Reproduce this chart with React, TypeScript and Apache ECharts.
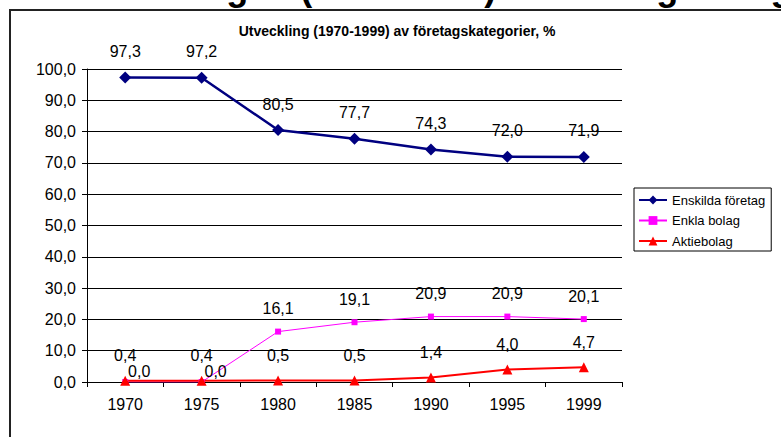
import React, { useEffect, useRef } from "react";
import * as echarts from "echarts";

const years = ["1970", "1975", "1980", "1985", "1990", "1995", "1999"];
const enskilda = [97.3, 97.2, 80.5, 77.7, 74.3, 72.0, 71.9];
const enkla = [0.0, 0.0, 16.1, 19.1, 20.9, 20.9, 20.1];
const aktie = [0.4, 0.4, 0.5, 0.5, 1.4, 4.0, 4.7];
const seriesNames = ["Enskilda företag", "Enkla bolag", "Aktiebolag"];
const yMin = 0;
const yMax = 100;
const yStep = 10;

const FONT = "'Liberation Sans', Arial, sans-serif";
const fmt = (v: number) => Number(v).toFixed(1).replace(".", ",");

export default function App() {
  const ref = useRef<HTMLDivElement>(null);
  useEffect(() => {
    if (!ref.current) return;
    const chart = echarts.init(ref.current, undefined, { renderer: "svg" });
    const label = {
      show: true,
      position: "top",
      distance: 12,
      fontSize: 16,
      color: "#000",
      fontFamily: FONT,
      formatter: (p: any) => fmt(p.value),
    };
    chart.setOption({
      animation: false,
      backgroundColor: "#fff",
      textStyle: { fontFamily: FONT },
      graphic: [
        {
          type: "text",
          x: -130,
          y: 5,
          silent: true,
          style: {
            text: "Diagram 1: Utvecklingen (1970-1999) av företagskategorier",
            font: "bold 36px " + FONT,
            fill: "#000",
            textVerticalAlign: "bottom",
            verticalAlign: "bottom",
          },
        },
        {
          type: "rect",
          shape: { x: 10, y: 10, width: 800, height: 460 },
          silent: true,
          style: { fill: "#fff", stroke: "#222", lineWidth: 2 },
        },
        {
          type: "text",
          x: 397,
          y: 31,
          silent: true,
          style: {
            text: "Utveckling (1970-1999) av företagskategorier, %",
            font: "bold 14px " + FONT,
            fill: "#000",
            align: "center",
            verticalAlign: "middle",
            textAlign: "center",
            textVerticalAlign: "middle",
          },
        },
      ],
      grid: {
        left: 87,
        right: 159,
        top: 69,
        bottom: 55,
        show: true,
        borderColor: "#808080",
        borderWidth: 1,
        backgroundColor: "transparent",
      },
      legend: {
        data: seriesNames,
        orient: "vertical",
        left: 634,
        top: 188,
        itemWidth: 28,
        itemHeight: 11,
        itemGap: 6.5,
        padding: [5, 6, 3, 4],
        borderColor: "#000",
        borderWidth: 1,
        backgroundColor: "#fff",
        textStyle: { fontSize: 13, color: "#000", fontFamily: FONT, lineHeight: 14 },
      },
      xAxis: {
        type: "category",
        data: years,
        boundaryGap: true,
        axisLine: { lineStyle: { color: "#000", width: 1 } },
        axisTick: { show: true, length: 5, alignWithLabel: false, lineStyle: { color: "#000" } },
        axisLabel: { color: "#000", fontSize: 16, margin: 14, fontFamily: FONT },
        splitLine: { show: false },
      },
      yAxis: {
        type: "value",
        min: yMin,
        max: yMax,
        interval: yStep,
        axisLine: { show: true, lineStyle: { color: "#000", width: 1 } },
        axisTick: { show: true, length: 5, lineStyle: { color: "#000" } },
        axisLabel: { color: "#000", fontSize: 16, margin: 11, fontFamily: FONT, formatter: (v: number) => fmt(v) },
        splitLine: { show: true, lineStyle: { color: "#000", width: 1 } },
      },
      series: [
        {
          name: seriesNames[0],
          type: "line",
          data: enskilda,
          color: "#000080",
          symbol: "diamond",
          symbolSize: 12,
          lineStyle: { width: 2.5, color: "#000080" },
          itemStyle: { color: "#000080" },
          label,
        },
        {
          name: seriesNames[1],
          type: "line",
          data: enkla.map((v, i) => (i < 2 ? { value: v, label: { offset: [14, 12] } } : v)),
          color: "#FF00FF",
          symbol: "rect",
          symbolSize: 6,
          lineStyle: { width: 1, color: "#FF00FF" },
          itemStyle: { color: "#FF00FF" },
          label,
        },
        {
          name: seriesNames[2],
          type: "line",
          data: aktie,
          color: "#FF0000",
          symbol: "triangle",
          symbolSize: 10,
          lineStyle: { width: 2, color: "#FF0000" },
          itemStyle: { color: "#FF0000" },
          label,
        },
      ],
    });
    return () => chart.dispose();
  }, []);
  return (
    <div
      ref={ref}
      style={{ position: "fixed", left: 0, top: 0, width: 781, height: 437, background: "#fff" }}
    />
  );
}
